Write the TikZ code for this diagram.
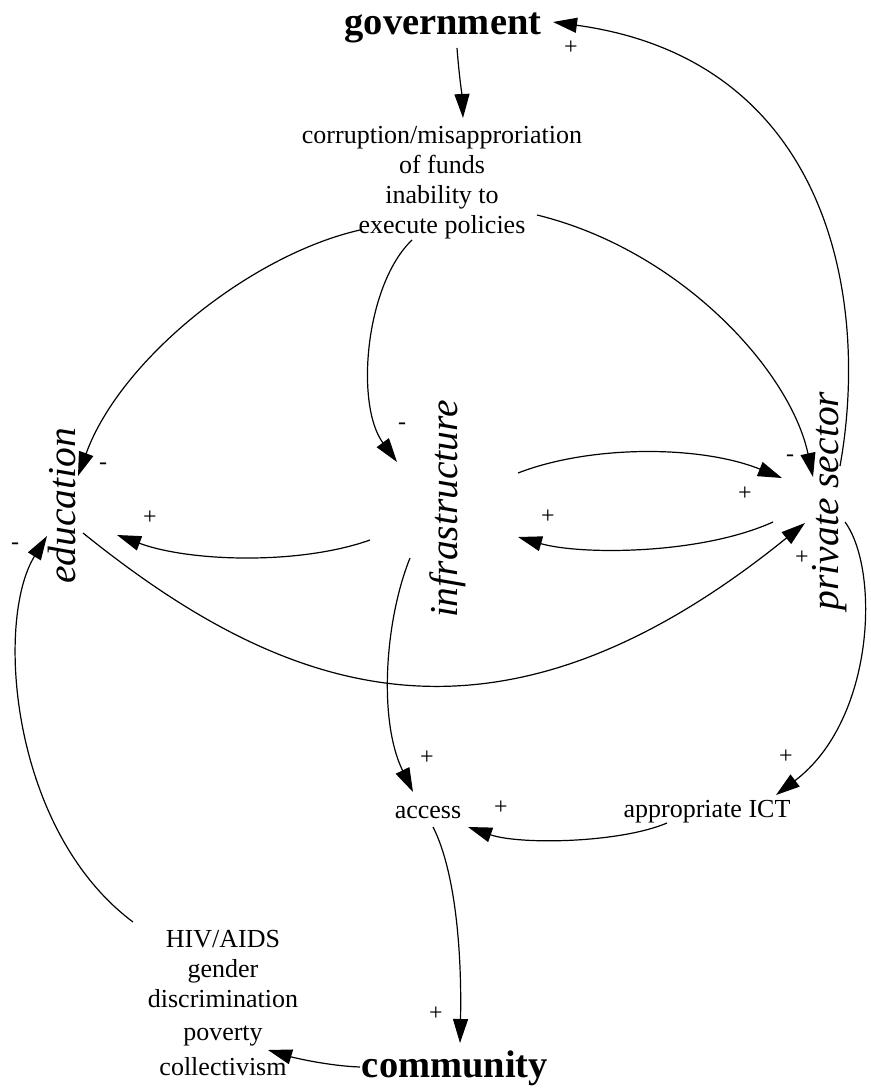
\documentclass[tikz,border=0pt]{standalone}
\usepackage{fontspec}
\setmainfont{Liberation Serif}
\usetikzlibrary{arrows.meta,calc}
\begin{document}
\begin{tikzpicture}[x=1pt,y=-1pt,
  every node/.style={inner sep=0pt,outer sep=0pt},
  bigbold/.style={font=\fontsize{38.5}{40}\selectfont\bfseries, anchor=base},
  vert/.style={font=\fontsize{39.5}{40}\selectfont\itshape, rotate=90, anchor=base},
  plain/.style={font=\fontsize{26}{30}\selectfont, anchor=base, align=center},
  sign/.style={font=\fontsize{24}{24}\selectfont},
  con/.style={-{Triangle[length=24pt,width=15pt]}, line width=1.2pt}]
\useasboundingbox (0,0) rectangle (870,1089);
% nodes (multi-line nodes are placed by the baseline of their last line)
\node[bigbold] (gov) at (443,35) {government};
\node[plain] (corr) at (442,233) {corruption/misapproriation\\of funds\\inability to\\execute policies};
\node[vert] (edu) at (75,506) {education};
\node[vert] (inf) at (457,509) {infrastructure};
\node[vert] (ps) at (838,501) {private sector};
\node[plain] (acc) at (428,818) {access};
\node[plain] (ict) at (707,817) {appropriate ICT};
\node[plain] (hiv) at (223,1075) {HIV/AIDS\\gender\\discrimination\\[3pt]poverty\\[5pt]collectivism};
\node[bigbold] (com) at (455,1077) {community};
% connectors
\draw[con] ($(gov.base)+(14,13)$) .. controls +(2,27) and +(-1,-23) .. ($(corr.base)+(21,-115)$);
\draw[con] ($(ps.base)+(2,-35)$) .. controls +(30,-166) and +(277,38) .. ($(gov.base)+(110,-13)$);
\draw[con] ($(corr.base)+(95,-18)$) .. controls +(143,35) and +(-23,-107) .. ($(ps.base)+(-25,-24)$);
\draw[con] ($(corr.base)+(-82,-3)$) .. controls +(-110,25) and +(42,-116) .. ($(edu.base)+(3,-30)$);
\draw[con] ($(corr.base)+(-30,7)$) .. controls +(-47,45) and +(-42,-57) .. ($(inf.base)+(-60,-47)$);
\draw[con] ($(inf.base)+(-87,31)$) .. controls +(-70,25) and +(73,27) .. ($(edu.base)+(42,29)$);
\draw[con] ($(inf.base)+(61,-36)$) .. controls +(72,-28) and +(-82,-33) .. ($(ps.base)+(-56,-23)$);
\draw[con] ($(ps.base)+(-65,21)$) .. controls +(-73,33) and +(62,18) .. ($(inf.base)+(61,28)$);
\draw[con] ($(edu.base)+(8,27)$) .. controls +(207,167) and +(-305,247) .. ($(ps.base)+(-33,22)$);
\draw[con] ($(inf.base)+(-47,49)$) .. controls +(-25,62) and +(-35,-72) .. ($(acc.base)+(-15,-26)$);
\draw[con] ($(ict.base)+(-40,6)$) .. controls +(-47,20) and +(52,18) .. ($(acc.base)+(40,9)$);
\draw[con] ($(ps.base)+(7,21)$) .. controls +(35,48) and +(99,-75) .. ($(ict.base)+(69,-22)$);
\draw[con] ($(acc.base)+(5,9)$) .. controls +(22,43) and +(2,-93) .. ($(com.base)+(5,-34)$);
\draw[con] ($(com.base)+(-95,-10)$) .. controls +(-30,-1) and +(27,8) .. ($(hiv.base)+(45,-25)$);
\draw[con] ($(hiv.base)+(-90,-153)$) .. controls +(-123,-92) and +(-52,84) .. ($(edu.base)+(-28,30)$);
% polarity signs
\node[sign] (s1) at (571,48) {+};
\node[sign] (s2) at (402,426) {-};
\node[sign] (s3) at (103,466) {-};
\node[sign] (s4) at (150,518) {+};
\node[sign] (s5) at (15,546) {-};
\node[sign] (s6) at (790,458) {-};
\node[sign] (s7) at (745,494) {+};
\node[sign] (s8) at (548,517) {+};
\node[sign] (s9) at (802,558) {+};
\node[sign] (s10) at (427,758) {+};
\node[sign] (s11) at (501,808) {+};
\node[sign] (s12) at (786,757) {+};
\node[sign] (s13) at (436,1014) {+};
\end{tikzpicture}
\end{document}
